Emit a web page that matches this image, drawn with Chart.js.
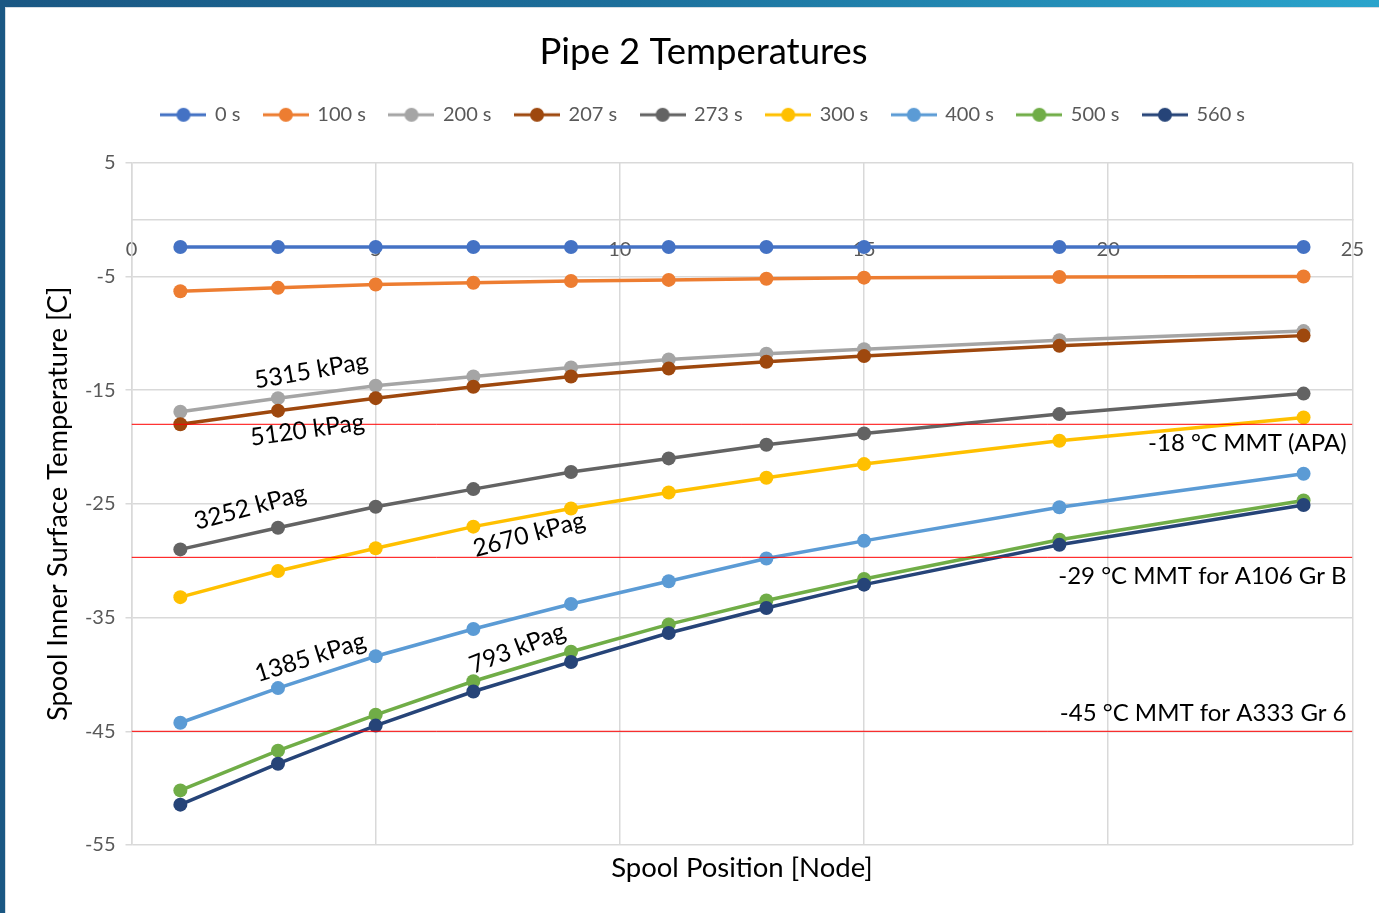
<!DOCTYPE html>
<html>
<head>
<meta charset="utf-8">
<script src="https://cdn.jsdelivr.net/npm/chart.js@4.4.1/dist/chart.umd.min.js"></script>
<style>
  html, body { margin: 0; padding: 0; width: 1379px; height: 913px; overflow: hidden; background: #fff; }
  #frame { position: absolute; left: 0; top: 0; width: 1379px; height: 913px;
           background: linear-gradient(90deg, #1a5783 0%, #1c6f9b 45%, #2aa4cc 100%); }
  #panel { position: absolute; left: 5px; top: 7px; right: 0; bottom: 0; background: #fff;
           border-left: 1px solid #d5dde4; border-top: 1px solid #d5dde4; }
  #wrap { position: absolute; left: 0; top: 0; width: 1379px; height: 913px; }
</style>
</head>
<body>
<div id="frame"></div>
<div id="panel"></div>
<div id="wrap"><canvas id="c" width="1379" height="913"></canvas></div>
<script>
// ---------------- DATA ----------------
const chartTitle = 'Pipe 2 Temperatures';
const xAxisTitle = 'Spool Position [Node]';
const yAxisTitle = 'Spool Inner Surface Temperature [C]';

const xNodes = [1, 3, 5, 7, 9, 11, 13, 15, 19, 24];
const seriesNames = ['0 s', '100 s', '200 s', '207 s', '273 s', '300 s', '400 s', '500 s', '560 s'];

const t0   = [-2.4, -2.4, -2.4, -2.4, -2.4, -2.4, -2.4, -2.4, -2.4, -2.4];
const t100 = [-6.3, -6.0, -5.7, -5.55, -5.4, -5.3, -5.2, -5.1, -5.05, -5.0];
const t200 = [-16.9, -15.7, -14.6, -13.8, -13.0, -12.3, -11.8, -11.4, -10.6, -9.8];
const t207 = [-18.0, -16.8, -15.7, -14.7, -13.8, -13.1, -12.5, -12.0, -11.1, -10.2];
const t273 = [-29.0, -27.1, -25.25, -23.7, -22.2, -21.0, -19.8, -18.8, -17.1, -15.3];
const t300 = [-33.2, -30.9, -28.9, -27.0, -25.4, -24.0, -22.7, -21.5, -19.45, -17.4];
const t400 = [-44.25, -41.2, -38.4, -36.0, -33.8, -31.8, -29.8, -28.25, -25.3, -22.35];
const t500 = [-50.2, -46.7, -43.55, -40.6, -38.0, -35.6, -33.5, -31.6, -28.15, -24.7];
const t560 = [-51.45, -47.85, -44.5, -41.5, -38.9, -36.35, -34.15, -32.1, -28.6, -25.1];
const seriesValues = [t0, t100, t200, t207, t273, t300, t400, t500, t560];

const xTickValues = [0, 5, 10, 15, 20, 25];
const yTickValues = [5, -5, -15, -25, -35, -45, -55];

const mmtValues = [-18, -29.7, -45];
const mmtLabels = ['-18 \u00B0C MMT (APA)', '-29 \u00B0C MMT for A106 Gr B', '-45 \u00B0C MMT for A333 Gr 6'];
const pressureLabels = ['5315 kPag', '5120 kPag', '3252 kPag', '2670 kPag', '1385 kPag', '793 kPag'];

// ---------------- STYLE / PLACEMENT ----------------
const FONT = 'Lato, "Open Sans", sans-serif';
const seriesColors = ['#4472C4', '#ED7D31', '#A5A5A5', '#9E480E', '#636363', '#FFC000', '#5B9BD5', '#70AD47', '#264478'];
const mmtLabelPlacement = [
  { x: 24.88, dy: 19 },
  { x: 24.88, dy: 19 },
  { x: 24.88, dy: -18 }
];
const pressurePlacement = [
  { x: 3.68, y: -13.3, angle: -10 },
  { x: 3.6,  y: -18.5, angle: -8 },
  { x: 2.43, y: -25.3, angle: -15 },
  { x: 8.14, y: -27.7, angle: -15 },
  { x: 3.66, y: -38.5, angle: -17.5 },
  { x: 7.9,  y: -37.7, angle: -21 }
];

function legendSymbol(color) {
  const c = document.createElement('canvas');
  c.width = 46; c.height = 16;
  const g = c.getContext('2d');
  g.strokeStyle = color; g.lineWidth = 3;
  g.beginPath(); g.moveTo(0, 8); g.lineTo(46, 8); g.stroke();
  g.fillStyle = color;
  g.beginPath(); g.arc(23, 8, 7, 0, Math.PI * 2); g.fill();
  return c;
}

const datasets = seriesNames.map((name, i) => ({
  label: name,
  data: xNodes.map((xv, j) => ({ x: xv, y: seriesValues[i][j] })),
  borderColor: seriesColors[i],
  backgroundColor: seriesColors[i],
  borderWidth: 3.5,
  pointRadius: 7,
  pointBorderWidth: 0,
  pointHoverRadius: 7,
  tension: 0,
  order: seriesNames.length - i,
  isSeries: true
}));
mmtValues.forEach((v, i) => {
  datasets.push({
    label: 'mmt' + i,
    data: [{ x: xTickValues[0], y: v }, { x: xTickValues[xTickValues.length - 1], y: v }],
    borderColor: '#FF0000',
    borderWidth: 1,
    pointRadius: 0,
    order: -1,
    isSeries: false
  });
});

const annotationPlugin = {
  id: 'annot',
  afterDatasetsDraw(chart) {
    const { ctx } = chart;
    const x = chart.scales.x, y = chart.scales.y;
    ctx.save();
    ctx.fillStyle = '#000';
    ctx.textBaseline = 'middle';
    ctx.font = '24px ' + FONT;
    ctx.textAlign = 'right';
    mmtLabels.forEach((t, i) => {
      const p = mmtLabelPlacement[i];
      ctx.fillText(t, x.getPixelForValue(p.x), y.getPixelForValue(mmtValues[i]) + p.dy);
    });
    ctx.font = '24.5px ' + FONT;
    ctx.textAlign = 'center';
    pressureLabels.forEach((t, i) => {
      const p = pressurePlacement[i];
      ctx.save();
      ctx.translate(x.getPixelForValue(p.x), y.getPixelForValue(p.y));
      ctx.rotate(p.angle * Math.PI / 180);
      ctx.fillText(t, 0, 0);
      ctx.restore();
    });
    ctx.restore();
  }
};

function draw() {
  new Chart(document.getElementById('c'), {
    type: 'line',
    data: { datasets },
    plugins: [annotationPlugin],
    options: {
      responsive: false,
      animation: false,
      events: [],
      font: { family: FONT },
      layout: { padding: { left: 41, right: 13, top: 0, bottom: 0 } },
      plugins: {
        tooltip: { enabled: false },
        title: {
          display: true, text: chartTitle, color: '#000',
          font: { family: FONT, size: 36.5, weight: 'normal', lineHeight: 1.2 },
          padding: { top: 30, bottom: 7 }
        },
        legend: {
          display: true,
          labels: {
            usePointStyle: true,
            pointStyleWidth: 43,
            padding: 24,
            color: '#595959',
            font: { family: FONT, size: 20 },
            generateLabels(chart) {
              return chart.data.datasets
                .map((ds, i) => ({ ds, i }))
                .filter(o => o.ds.isSeries)
                .map(o => ({
                  text: o.ds.label,
                  fillStyle: o.ds.borderColor,
                  strokeStyle: o.ds.borderColor,
                  lineWidth: 0,
                  pointStyle: legendSymbol(o.ds.borderColor),
                  fontColor: '#595959',
                  hidden: false,
                  datasetIndex: o.i
                }));
            }
          }
        }
      },
      scales: {
        x: {
          type: 'linear',
          position: { y: 0 },
          min: xTickValues[0], max: xTickValues[xTickValues.length - 1],
          afterBuildTicks(axis) { axis.ticks = xTickValues.map(v => ({ value: v })); },
          grid: { color: '#d9d9d9', lineWidth: 1.5, drawTicks: true, tickLength: 3, tickColor: 'rgba(0,0,0,0)' },
          border: { color: '#d9d9d9', width: 1.5 },
          ticks: { color: '#595959', font: { family: FONT, size: 20 }, padding: 15, maxRotation: 0 }
        },
        xSpacer: {
          type: 'linear', position: 'top', display: true,
          ticks: { display: false },
          grid: { display: false, drawTicks: false },
          border: { display: false },
          title: { display: true, text: ' ', font: { size: 10, lineHeight: 1 }, padding: { top: 18, bottom: 0 } }
        },
        xTitle: {
          type: 'linear', position: 'bottom', display: true,
          ticks: { display: false },
          grid: { display: false, drawTicks: false },
          border: { display: false },
          title: {
            display: true, text: xAxisTitle, color: '#000',
            font: { family: FONT, size: 27.5, lineHeight: 1.2 },
            padding: { top: 7, bottom: 28 }
          }
        },
        y: {
          type: 'linear',
          min: yTickValues[yTickValues.length - 1], max: yTickValues[0],
          afterBuildTicks(axis) { axis.ticks = yTickValues.slice().reverse().map(v => ({ value: v })); },
          grid: { color: '#d9d9d9', lineWidth: 1.5, tickLength: 6 },
          border: { color: '#d9d9d9', width: 1.5 },
          ticks: { color: '#595959', font: { family: FONT, size: 20 }, padding: 10 },
          title: {
            display: true, text: yAxisTitle, color: '#000',
            font: { family: FONT, size: 27.4, lineHeight: 1.2 },
            padding: { top: 1, bottom: 0 }
          }
        }
      }
    }
  });
}

const loads = [20, 24, 27, 36].map(s => document.fonts.load(s + 'px Lato'));
Promise.all(loads).then(draw, draw);
</script>
</body>
</html>
